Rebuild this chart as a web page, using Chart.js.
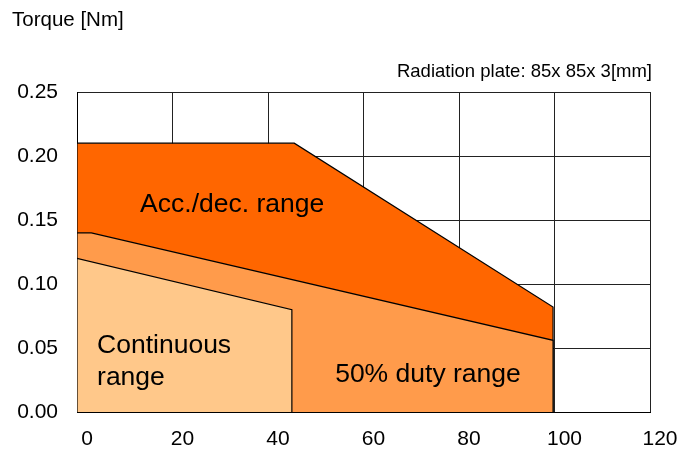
<!DOCTYPE html>
<html>
<head>
<meta charset="utf-8">
<script src="https://cdn.jsdelivr.net/npm/chart.js@4"></script>
<style>
  html, body { margin: 0; padding: 0; background: #fff; }
  #wrap { width: 691px; height: 455px; }
</style>
</head>
<body>
<div id="wrap"><canvas id="c" width="691" height="455"></canvas></div>
<script>
// torque [Nm] outlines
const continuousX = [0, 0, 45, 45];
const continuousY = [0, 0.12, 0.08, 0];
const dutyX = [0, 0, 3, 99.7, 99.7];
const dutyY = [0, 0.14, 0.14, 0.056, 0];
const accX = [0, 0, 45.5, 99.7, 99.7];
const accY = [0, 0.21, 0.21, 0.082, 0];

const xTicks = [0, 20, 40, 60, 80, 100, 120];
const yTicks = [0, 0.05, 0.10, 0.15, 0.20, 0.25];

const regionLabels = [
    { text: 'Acc./dec. range', x: 32.5, y: 0.162, align: 'center' },
    { text: 'Continuous', x: 4.2, y: 0.0516, align: 'left' },
    { text: 'range', x: 4.2, y: 0.0266, align: 'left' },
    { text: '50% duty range', x: 73.5, y: 0.029, align: 'center' },
];

const FONT = '"Liberation Sans", Arial, sans-serif';

const toPoints = (xs, ys) => xs.map((x, i) => ({ x, y: ys[i] }));

const area = (label, xs, ys, color) => ({
    label,
    data: toPoints(xs, ys),
    backgroundColor: color,
    borderColor: '#000',
    borderWidth: 1.2,
    pointRadius: 0,
    tension: 0,
    fill: 'origin',
});

const textPlugin = {
    id: 'texts',
    afterDatasetsDraw(chart) {
        const { ctx, scales } = chart;
        ctx.save();
        ctx.fillStyle = '#000';
        ctx.textBaseline = 'middle';
        ctx.font = '26.5px ' + FONT;
        regionLabels.forEach((l) => {
            ctx.textAlign = l.align;
            ctx.fillText(l.text, scales.x.getPixelForValue(l.x), scales.y.getPixelForValue(l.y));
        });
        ctx.textAlign = 'left';
        ctx.font = '20.5px ' + FONT;
        ctx.fillText('Torque [Nm]', 12, 20);
        ctx.textAlign = 'right';
        ctx.font = '18.5px ' + FONT;
        ctx.fillText('Radiation plate: 85x 85x 3[mm]', 652, 72);
        ctx.restore();
    },
};

new Chart(document.getElementById('c'), {
    type: 'line',
    data: {
        datasets: [
            area('Continuous range', continuousX, continuousY, '#FFC88A'),
            area('50% duty range', dutyX, dutyY, '#FF9B4B'),
            area('Acc./dec. range', accX, accY, '#FF6600'),
        ],
    },
    options: {
        responsive: false,
        animation: false,
        layout: { padding: { top: 92, right: 41, bottom: 0, left: 0 } },
        plugins: { legend: { display: false }, tooltip: { enabled: false } },
        scales: {
            x: {
                type: 'linear',
                min: 0,
                max: 120,
                afterBuildTicks: (s) => { s.ticks = xTicks.map((v) => ({ value: v })); },
                afterFit: (s) => { s.height = 43; },
                grid: { color: '#222', lineWidth: 1, drawTicks: false },
                border: { color: '#000', width: 1 },
                ticks: { color: '#000', font: { family: FONT, size: 21 }, padding: 15, labelOffset: 10, maxRotation: 0 },
            },
            y: {
                min: 0,
                max: 0.25,
                afterBuildTicks: (s) => { s.ticks = yTicks.map((v) => ({ value: v })); },
                afterFit: (s) => { s.width = 77; },
                grid: { color: '#222', lineWidth: 1, drawTicks: false },
                border: { color: '#000', width: 1 },
                ticks: { color: '#000', font: { family: FONT, size: 21 }, padding: 19, callback: (v) => v.toFixed(2) },
            },
        },
    },
    plugins: [textPlugin],
});
</script>
</body>
</html>
